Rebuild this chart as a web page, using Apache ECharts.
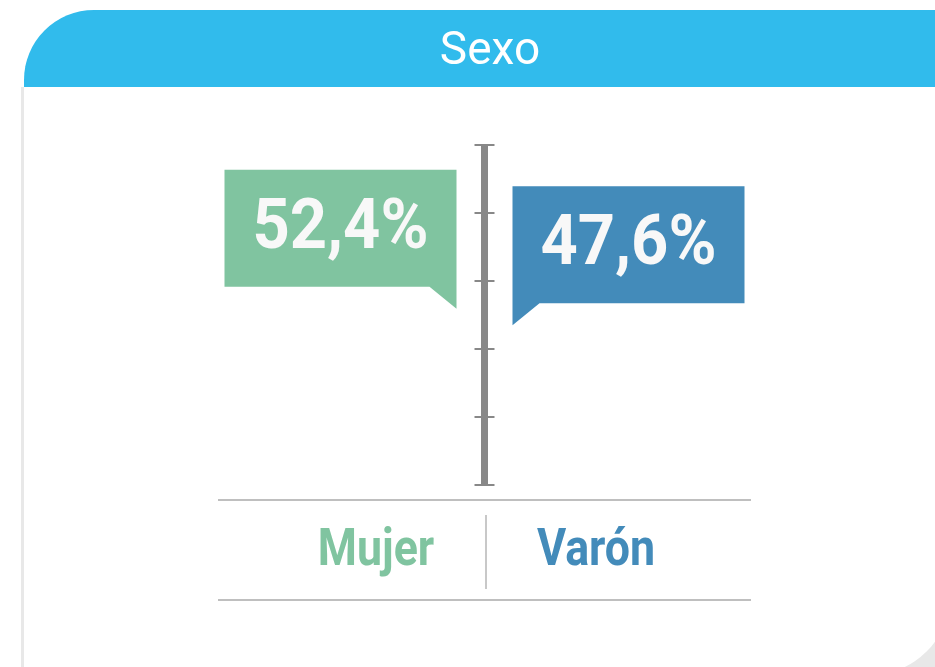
<!DOCTYPE html>
<html>
<head>
<meta charset="utf-8">
<title>Sexo</title>
<script src="https://cdn.jsdelivr.net/npm/echarts@6/dist/echarts.min.js"></script>
<style>
  html, body { margin: 0; padding: 0; background: #fff; }
  #chart { width: 935px; height: 667px; }
</style>
</head>
<body>
<div id="chart"></div>
<script>
// data
const titleText = 'Sexo'
const categories = ['Mujer', 'Varón']
const shares = [52.4, 47.6]
const sides = [-1, 1]            // which side of the axis the callout sits on
const colors = ['#80C4A0', '#438BBA']
const axisTicks = [0, 100, 20]   // min, max, interval

const font = 'Roboto, "Noto Sans", sans-serif'

const chart = echarts.init(document.getElementById('chart'))

const fmt = v => v.toFixed(1).replace('.', ',') + '%'

const option = {
  animation: false,
  title: {
    text: titleText,
    left: 485,
    top: 24,
    textAlign: 'center',
    textStyle: {
      color: '#ffffff',
      fontFamily: font,
      fontWeight: 'normal',
      fontSize: 46
    }
  },
  graphic: [
    // card shadow + card + header band
    {
      type: 'rect', z: -10, silent: true,
      shape: {x: 21, y: 87, width: 940, height: 603, r: [0, 0, 82, 0]},
      style: {fill: '#e8e8e8'}
    },
    {
      type: 'rect', z: -9, silent: true,
      shape: {x: 24, y: 10, width: 926, height: 665, r: [70, 0, 80, 0]},
      style: {fill: '#ffffff'}
    },
    {
      type: 'rect', z: -8, silent: true,
      shape: {x: 24, y: 10, width: 930, height: 77, r: [70, 0, 0, 0]},
      style: {fill: '#31BBEC'}
    }
  ],
  grid: [
    // callouts + vertical axis
    {left: 218, width: 533, top: 145, height: 340},
    // category labels + divider
    {left: 266, width: 440, top: 515, height: 74},
    // the two rules above and below the labels
    {left: 218, width: 533, top: 500, height: 100}
  ],
  xAxis: [
    {gridIndex: 0, type: 'value', min: -1, max: 1, show: false},
    {
      gridIndex: 1,
      type: 'category',
      data: categories,
      axisLine: {show: false},
      axisTick: {show: false},
      axisLabel: {show: false},
      splitLine: {
        show: true,
        showMinLine: false,
        showMaxLine: false,
        lineStyle: {color: '#c8c8c8', width: 2}
      }
    },
    {gridIndex: 2, type: 'value', min: 0, max: 1, show: false}
  ],
  yAxis: [
    {
      gridIndex: 0,
      type: 'value',
      min: axisTicks[0], max: axisTicks[1], interval: axisTicks[2],
      axisLine: {show: true, onZero: true, lineStyle: {color: '#888888', width: 7, cap: 'butt'}},
      axisTick: {show: true, length: 10, lineStyle: {color: '#888888', width: 2}},
      axisLabel: {show: false},
      splitLine: {show: false}
    },
    {
      // same scale again, ticks pointing the other way
      gridIndex: 0,
      type: 'value',
      position: 'right',
      offset: -266.5,
      min: axisTicks[0], max: axisTicks[1], interval: axisTicks[2],
      axisLine: {show: false, onZero: false},
      axisTick: {show: true, length: 10, lineStyle: {color: '#888888', width: 2}},
      axisLabel: {show: false},
      splitLine: {show: false}
    },
    {gridIndex: 1, type: 'value', min: 0, max: 1, show: false},
    {
      gridIndex: 2,
      type: 'value',
      min: 0, max: 1, interval: 1,
      axisLine: {show: false},
      axisTick: {show: false},
      axisLabel: {show: false},
      splitLine: {show: true, lineStyle: {color: '#aaaaaa', width: 1.5}}
    }
  ],
  series: [
    {
      // speech-bubble callouts pointing at the share on the axis
      type: 'custom',
      xAxisIndex: 0,
      yAxisIndex: 0,
      data: shares.map((v, i) => [sides[i], v, i]),
      renderItem: function (params, api) {
        const side = api.value(0)
        const idx = api.value(2)
        const tip = api.coord([0, api.value(1)])
        tip[1] += 2
        const gap = 28, w = 232, h = 117, tail = 22, tw = 27
        const inner = tip[0] + side * gap
        const outer = inner + side * w
        const bottom = tip[1] - tail
        const top = bottom - h
        return {
          type: 'group',
          children: [
            {
              type: 'polygon',
              shape: {
                points: [
                  [inner, top], [outer, top], [outer, bottom],
                  [inner + side * tw, bottom], [inner, tip[1]]
                ]
              },
              style: {fill: colors[idx]}
            },
            {
              type: 'text',
              x: (inner + outer) / 2,
              y: top + h / 2 + 2,
              scaleX: 0.93,
              style: {
                text: fmt(shares[idx]),
                align: 'center',
                verticalAlign: 'middle',
                fontFamily: font,
                fontWeight: 'bold',
                fontSize: 70,
                fill: '#f8f8f8'
              }
            }
          ]
        }
      }
    },
    {
      // category names under the axis
      type: 'custom',
      xAxisIndex: 1,
      yAxisIndex: 2,
      data: categories.map((c, i) => [i, 0.5]),
      renderItem: function (params, api) {
        const idx = api.value(0)
        const pt = api.coord([idx, 0.5])
        return {
          type: 'text',
          x: pt[0],
          y: pt[1],
          scaleX: 0.86,
          style: {
            text: categories[idx],
            align: 'center',
            verticalAlign: 'middle',
            fontFamily: font,
            fontWeight: 'bold',
            fontSize: 52,
            fill: colors[idx]
          }
        }
      }
    }
  ]
}

chart.setOption(option)
</script>
</body>
</html>
